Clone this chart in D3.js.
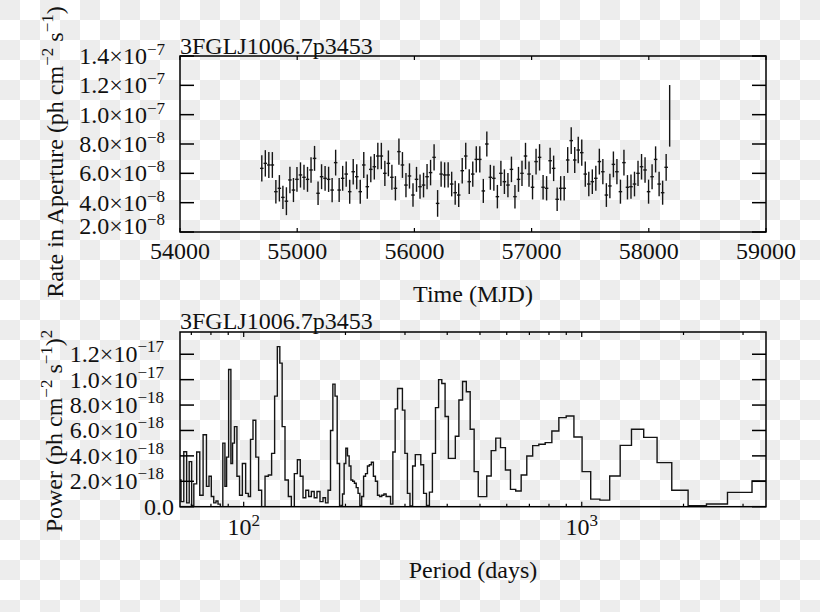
<!DOCTYPE html>
<html><head><meta charset="utf-8">
<script src="https://cdn.jsdelivr.net/npm/d3@7"></script>
<style>
body{margin:0;background:#fff;}
svg{display:block;}
text{font-family:"Liberation Serif","Times New Roman",serif;fill:#111;}
</style>
</head><body>
<svg id="c" width="820" height="612"></svg>
<script>
// ---------------- DATA ----------------
const sourceName = "3FGLJ1006.7p3453";

// Light curve: bin centres (MJD), rate (units of 1e-8 ph cm^-2 s^-1), 1-sigma error
const mjd = [54698,54728,54758,54788,54818,54848,54878,54908,54938,54968,
54998,55028,55058,55088,55118,55148,55178,55208,55238,55268,
55298,55328,55358,55388,55418,55448,55478,55508,55538,55568,
55598,55628,55658,55688,55718,55748,55778,55808,55838,55868,
55898,55928,55958,55988,56018,56048,56078,56108,56138,56168,
56198,56228,56258,56288,56318,56348,56378,56408,56438,56468,
56498,56528,56558,56588,56618,56648,56678,56708,56738,56768,
56798,56828,56858,56888,56918,56948,56978,57008,57038,57068,
57098,57128,57158,57188,57218,57248,57278,57308,57338,57368,
57398,57428,57458,57488,57518,57548,57578,57608,57638,57668,
57698,57728,57758,57788,57818,57848,57878,57908,57938,57968,
57998,58028,58058,58088,58118,58148,58178];
const rate = [6.34,6.68,6.57,6.57,4.75,4.98,4.36,4.10,5.55,4.86,
5.59,5.89,5.73,5.59,6.23,7.02,4.64,5.77,5.66,5.59,
4.86,6.73,4.86,5.66,5.95,4.75,6.11,5.77,4.75,6.57,
5.09,6.27,6.45,7.18,7.18,6.00,6.68,5.73,4.98,7.48,
6.57,5.20,5.82,4.52,5.59,5.09,5.20,5.77,6.05,7.09,
3.95,5.95,5.89,5.89,5.27,4.68,4.52,6.18,7.18,5.43,
5.95,6.95,6.95,4.80,8.00,5.73,5.66,4.41,6.00,5.43,
5.20,6.27,4.41,5.59,6.00,7.18,5.95,5.05,6.80,7.09,
5.05,4.98,6.86,6.34,4.23,4.98,4.98,6.91,8.23,6.91,
7.59,7.41,5.95,5.27,5.43,5.66,6.80,6.11,4.52,5.14,
6.61,6.11,4.75,6.73,5.05,5.09,5.27,6.00,6.45,6.23,
4.75,5.77,6.95,5.27,4.68,6.41,9.92];
const rateErr = [0.90,0.90,0.88,0.88,0.80,0.90,0.80,0.95,0.90,0.82,
0.85,0.86,0.85,0.85,0.87,0.85,0.80,0.85,0.84,0.86,
0.83,0.88,0.82,0.85,0.86,0.82,0.87,0.85,0.82,0.88,
0.83,0.87,0.87,0.90,0.90,0.86,0.88,0.85,0.83,0.90,
0.88,0.83,0.86,0.80,0.85,0.83,0.84,0.86,0.87,0.90,
0.91,0.86,0.86,0.86,0.84,0.82,0.81,0.87,0.90,0.84,
0.86,0.89,0.89,0.82,0.85,0.85,0.85,0.80,0.86,0.84,
0.83,0.87,0.80,0.85,0.86,0.90,0.86,0.83,0.88,0.90,
0.83,0.83,0.88,0.87,0.80,0.83,0.83,0.88,0.92,0.88,
0.90,0.90,0.86,0.84,0.84,0.85,0.88,0.86,0.81,0.84,
0.88,0.86,0.82,0.88,0.83,0.83,0.84,0.86,0.87,0.87,
0.82,0.85,0.89,0.84,0.82,0.91,2.10];
const rateUnit = 1e-8;
const binHalfWidth = 15;      // days
const lastBinHalfWidth = 1;   // partial final bin

// Periodogram (power in units of 1e-18), dense short-period part
const densePeriod = [64.8,65.7,67.3,68.3,69.7,70.6,71.8,73.4,74.9,76.8,78.4,79.5,80.9,82.2,83.4,84.5,86.1,87.4,88.6,89.4,
91.1,92.2,93.2,94.6,96.4,98.0,100.2,102.5,103.9,105.6,107.5,109.7,111.7,114.3,117.0,119.6,122.3,124.6,126.9,128.9,
131.0,134.0,137.1,139.6,142.8,145.5,148.5,151.1,154.2,157.1,160.0,163.3,166.2,170.1,173.2,176.0,179.2,182.1,185.0,187.6,
190.5,193.8];
const densePower = [2.1,0.4,4.33,0.3,3.55,0.1,1.8,4.3,0.9,5.66,1.6,2.4,0.8,0.3,0.45,0.2,0.0,5.0,1.6,3.9,
10.8,3.4,5.0,6.3,2.4,0.9,3.4,1.05,0.8,5.3,6.8,3.9,1.3,0.0,2.4,2.5,4.2,8.7,12.6,11.3,
6.3,2.1,0.8,0.0,2.6,3.7,2.4,0.7,1.3,0.8,1.2,0.7,1.2,0.4,0.7,0.3,1.3,6.0,9.65,8.7,
3.4,0.1];
// stepped long-period part: left edge of each step (days) and its power
const stepPeriod = [193.8,196.0,198.2,200.5,202.8,205.1,207.6,210.1,212.6,215.2,
217.9,220.6,223.4,226.3,229.3,232.3,235.4,238.6,241.9,245.3,
248.8,252.4,256.1,259.9,263.8,267.8,271.9,276.2,280.6,285.2,
289.9,294.8,299.8,305.0,310.4,316.0,321.8,327.9,334.1,340.6,
347.3,354.3,361.6,369.3,377.2,385.5,394.2,403.2,412.7,422.7,
433.1,444.1,455.6,467.7,480.5,494.1,508.4,523.6,539.7,556.8,
575.1,594.6,615.4,637.8,661.9,687.8,715.9,746.4,779.6,815.8,
855.6,899.5,948.1,1002.3,1063.0,1131.6,1209.7,1299.3,1403.2,1525.2,
1670.5,1846.3,2063.5,2338.7,2698.5,3189.1,3508];
const stepPower = [0.1,1.0,3.4,4.6,4.0,3.2,2.1,2.0,1.85,1.5,
1.05,0.1,0.8,2.4,2.6,3.2,3.3,3.5,2.4,2.0,
0.9,0.8,0.9,1.0,0.8,0.8,0.2,4.3,7.7,9.3,
9.3,7.6,4.2,1.05,0.05,3.2,4.1,4.1,3.3,1.05,
0.1,1.15,4.2,7.8,10.0,9.7,7.1,3.8,3.8,5.55,
8.4,9.85,9.05,6.1,2.76,0.79,0.79,2.42,4.41,5.40,
4.65,2.89,1.36,1.23,2.49,3.99,4.81,4.91,5.04,5.96,
7.01,7.14,5.49,2.76,0.60,0.52,2.42,4.83,6.09,5.46,
3.47,1.29,0.08,0.21,1.13,2.02,2.02];
const powerUnit = 1e-18;

// Axes
const timeDomain = [54000, 59000];
const timeTicks = [54000, 55000, 56000, 57000, 58000, 59000];
const rateDomain = [2e-8, 1.4e-7];
const rateTicks = [2e-8, 4e-8, 6e-8, 8e-8, 1e-7, 1.2e-7, 1.4e-7];
const periodDomain = [64.8, 3508];
const periodMajorTicks = [100, 1000];
const periodMinorTicks = [70, 80, 90, 200, 300, 400, 500, 600, 700, 800, 900, 2000, 3000];
const powerDomain = [0, 1.375e-17];
const powerTicks = [0, 2e-18, 4e-18, 6e-18, 8e-18, 1e-17, 1.2e-17];

// ---------------- DRAW ----------------
const svg = d3.select("#c");
const defs = svg.append("defs");
const pat = defs.append("pattern").attr("id","chk").attr("width",40).attr("height",40).attr("patternUnits","userSpaceOnUse");
pat.append("rect").attr("width",40).attr("height",40).attr("fill","#ffffff");
pat.append("rect").attr("width",20).attr("height",20).attr("fill","#ededed");
pat.append("rect").attr("x",20).attr("y",20).attr("width",20).attr("height",20).attr("fill","#ededed");
svg.append("rect").attr("width",820).attr("height",612).attr("fill","url(#chk)");

const FS = 24, SUP = 17;
const L = 180, R = 766;
const top1 = 56, bot1 = 232, top2 = 332, bot2 = 506.7;

const xT = d3.scaleLinear(timeDomain, [L, R]);
const yT = d3.scaleLinear(rateDomain, [bot1, top1]);
const xP = d3.scaleLog(periodDomain, [L, R]);
const yP = d3.scaleLinear(powerDomain, [bot2, top2]);

function sci(v) {
  if (v === 0) return ["0.0", null];
  const e = Math.floor(Math.log10(v) + 1e-9);
  const m = v / Math.pow(10, e);
  return [m.toFixed(1) + "×10", "−" + Math.abs(e)];
}
function supText(g, x, y, anchor, parts) {
  const t = g.append("text").attr("x", x).attr("y", y).attr("text-anchor", anchor).attr("font-size", FS);
  parts.forEach(p => {
    const s = t.append("tspan").text(p.t);
    if (p.dy) s.attr("dy", p.dy);
    if (p.sup) s.attr("font-size", SUP);
  });
  return t;
}

const ink = "#151515";

// ---- top panel ----
const g1 = svg.append("g");
g1.append("defs").append("clipPath").attr("id","clip1").append("rect")
  .attr("x",L).attr("y",top1).attr("width",R-L).attr("height",bot1-top1);
const lc = g1.append("g").attr("clip-path","url(#clip1)").attr("stroke",ink).attr("stroke-width",1.4);
mjd.forEach((t, i) => {
  const r = rate[i]*rateUnit, e = rateErr[i]*rateUnit;
  const hw = i === mjd.length-1 ? lastBinHalfWidth : binHalfWidth;
  lc.append("line").attr("x1", xT(t)).attr("x2", xT(t)).attr("y1", yT(r-e)).attr("y2", yT(r+e));
  lc.append("line").attr("x1", xT(t-hw)).attr("x2", xT(t+hw)).attr("y1", yT(r)).attr("y2", yT(r));
});
g1.append("rect").attr("x",L).attr("y",top1).attr("width",R-L).attr("height",bot1-top1)
  .attr("fill","none").attr("stroke","#000").attr("stroke-width",1.5);
rateTicks.forEach(v => {
  g1.append("line").attr("x1",L).attr("x2",L+14).attr("y1",yT(v)).attr("y2",yT(v)).attr("stroke","#000").attr("stroke-width",1.5);
  g1.append("line").attr("x1",R).attr("x2",R-14).attr("y1",yT(v)).attr("y2",yT(v)).attr("stroke","#000").attr("stroke-width",1.5);
  const [m, e] = sci(v);
  const off = v === rateDomain[0] ? 2 : 8;
  supText(g1, 165, yT(v)+off, "end", [{t:m},{t:e,sup:true,dy:-9}]);
});
timeTicks.forEach(v => {
  g1.append("line").attr("x1",xT(v)).attr("x2",xT(v)).attr("y1",bot1).attr("y2",bot1-4).attr("stroke","#000").attr("stroke-width",1.2);
  g1.append("line").attr("x1",xT(v)).attr("x2",xT(v)).attr("y1",top1).attr("y2",top1+4).attr("stroke","#000").attr("stroke-width",1.2);
  g1.append("text").attr("x",xT(v)).attr("y",259).attr("text-anchor","middle").attr("font-size",FS).text(v);
});
g1.append("text").attr("x",L).attr("y",54).attr("font-size",FS).text(sourceName);
g1.append("text").attr("x",(L+R)/2).attr("y",302).attr("text-anchor","middle").attr("font-size",FS).text("Time (MJD)");
supText(g1, 0, 0, "middle", [
  {t:"Rate in Aperture (ph cm"},{t:"−2",sup:true,dy:-10},{t:" s",dy:10},{t:"−1",sup:true,dy:-10},{t:")",dy:10}
]).attr("transform","translate(63,152) rotate(-90)");

// ---- bottom panel ----
const g2 = svg.append("g");
g2.append("defs").append("clipPath").attr("id","clip2").append("rect")
  .attr("x",L).attr("y",top2).attr("width",R-L).attr("height",bot2-top2);
const pg = g2.append("g").attr("clip-path","url(#clip2)");
const denseLine = d3.line().x(d => xP(d[0])).y(d => yP(d[1]*powerUnit)).curve(d3.curveStep);
pg.append("path").attr("d", denseLine(densePeriod.map((p,i)=>[p, densePower[i]])))
  .attr("fill","none").attr("stroke",ink).attr("stroke-width",1.4);
const stepLine = d3.line().x(d => xP(d[0])).y(d => yP(d[1]*powerUnit)).curve(d3.curveStepAfter);
pg.append("path").attr("d", stepLine(stepPeriod.map((p,i)=>[p, stepPower[i]])))
  .attr("fill","none").attr("stroke",ink).attr("stroke-width",1.4);
g2.append("rect").attr("x",L).attr("y",top2).attr("width",R-L).attr("height",bot2-top2)
  .attr("fill","none").attr("stroke","#000").attr("stroke-width",1.5);
powerTicks.forEach(v => {
  g2.append("line").attr("x1",L).attr("x2",L+14).attr("y1",yP(v)).attr("y2",yP(v)).attr("stroke","#000").attr("stroke-width",1.5);
  g2.append("line").attr("x1",R).attr("x2",R-14).attr("y1",yP(v)).attr("y2",yP(v)).attr("stroke","#000").attr("stroke-width",1.5);
  const [m, e] = sci(v);
  if (e === null) supText(g2, 174, yP(v)+8, "end", [{t:m}]);
  else supText(g2, 164, yP(v)+8, "end", [{t:m},{t:e,sup:true,dy:-10}]);
});
periodMinorTicks.forEach(v => {
  g2.append("line").attr("x1",xP(v)).attr("x2",xP(v)).attr("y1",bot2).attr("y2",bot2-3).attr("stroke","#000").attr("stroke-width",1.2);
  g2.append("line").attr("x1",xP(v)).attr("x2",xP(v)).attr("y1",top2).attr("y2",top2+3).attr("stroke","#000").attr("stroke-width",1.2);
});
periodMajorTicks.forEach(v => {
  g2.append("line").attr("x1",xP(v)).attr("x2",xP(v)).attr("y1",bot2).attr("y2",bot2-5).attr("stroke","#000").attr("stroke-width",1.2);
  g2.append("line").attr("x1",xP(v)).attr("x2",xP(v)).attr("y1",top2).attr("y2",top2+5).attr("stroke","#000").attr("stroke-width",1.2);
  supText(g2, xP(v), 535, "middle", [{t:"10"},{t:String(Math.round(Math.log10(v))),sup:true,dy:-9}]);
});
g2.append("text").attr("x",L).attr("y",329).attr("font-size",FS).text(sourceName);
g2.append("text").attr("x",(L+R)/2).attr("y",578).attr("text-anchor","middle").attr("font-size",FS).text("Period (days)");
supText(g2, 0, 0, "middle", [
  {t:"Power (ph cm"},{t:"−2",sup:true,dy:-10},{t:" s",dy:10},{t:"−1",sup:true,dy:-10},{t:")",dy:10},{t:"2",sup:true,dy:-10}
]).attr("transform","translate(62,431) rotate(-90)");
</script>
</body></html>
